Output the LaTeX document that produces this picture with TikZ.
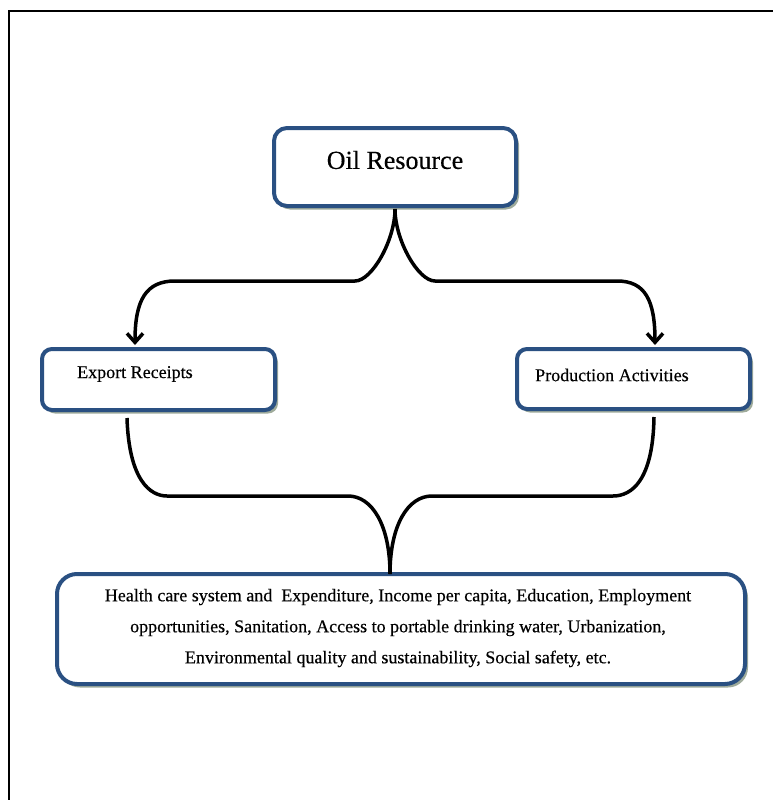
\documentclass[tikz,border=0pt]{standalone}
\usepackage{fontspec}
\setmainfont{Liberation Serif}[BoldFont=Liberation Serif, BoldFeatures={FakeBold=0.4}]
\usetikzlibrary{arrows.meta,shadows,calc}
\definecolor{boxblue}{RGB}{42,80,130}
\definecolor{shadowc}{RGB}{135,150,130}
\tikzset{
  box/.style={draw=boxblue, line width=4pt, fill=white, inner sep=0pt,
    drop shadow={shadow xshift=3pt, shadow yshift=-3.5pt, fill=shadowc, opacity=0.8}},
  txt/.style={inner sep=0pt, font=\fontsize{18}{22}\selectfont\bfseries},
  conn/.style={line width=3.5pt, black},
  tip/.style={-{Straight Barb[length=9pt,width=16pt,line width=3.5pt]}}
}
\begin{document}
\begin{tikzpicture}[x=1pt,y=-1pt]
\useasboundingbox (0,0) rectangle (772,800);
\draw[line width=2pt] (9,801) -- (9,11) -- (773,11);

\node[box, rounded corners=13pt, minimum width=242pt, minimum height=78pt] (oil) at (395,167) {};
\node[txt, font=\fontsize{26}{30}\selectfont\bfseries] (oilt) at (395,160) {Oil Resource};

\node[box, rounded corners=10pt, minimum width=233pt, minimum height=61pt] (exp) at (158.5,379.5) {};
\node[txt, anchor=west] (expt) at (77,374) {Export Receipts};

\node[box, rounded corners=10pt, minimum width=233pt, minimum height=60pt] (prod) at (633.5,379) {};
\node[txt, anchor=west] (prodt) at (535,375) {Production Activities};

\node[box, rounded corners=20pt, minimum width=688pt, minimum height=110pt] (bot) at (401,629) {};
\node[txt, align=center, font=\fontsize{18}{31}\selectfont\bfseries] (bott) at (398,628)
  {Health care system and~ Expenditure, Income per capita, Education, Employment\\
   opportunities, Sanitation, Access to portable drinking water, Urbanization,\\
   Environmental quality and sustainability, Social safety, etc.};

\draw[conn, tip] ([yshift=-1pt]oil.south) .. controls (395,240) and (372,281) .. (355,281)
  -- (175,281) .. controls (146,281) and (135,300) .. ([xshift=-23.5pt,yshift=2pt]exp.north);
\draw[conn, tip] ([yshift=-1pt]oil.south) .. controls (395,240) and (418,281) .. (435,281)
  -- (617,281) .. controls (645,281) and (655,300) .. ([xshift=21.5pt,yshift=2pt]prod.north);

\draw[conn] ([xshift=-31.5pt,yshift=-6pt]exp.south) .. controls (129,480) and (150,496) .. (167,496)
  -- (348,496) .. controls (372,496) and (390,525) .. ([xshift=-11pt,yshift=-2pt]bot.north);
\draw[conn] ([xshift=20.5pt,yshift=-6pt]prod.south) .. controls (653,480) and (632,496) .. (613,496)
  -- (432,496) .. controls (408,496) and (390,525) .. ([xshift=-11pt,yshift=-2pt]bot.north);
\end{tikzpicture}
\end{document}
